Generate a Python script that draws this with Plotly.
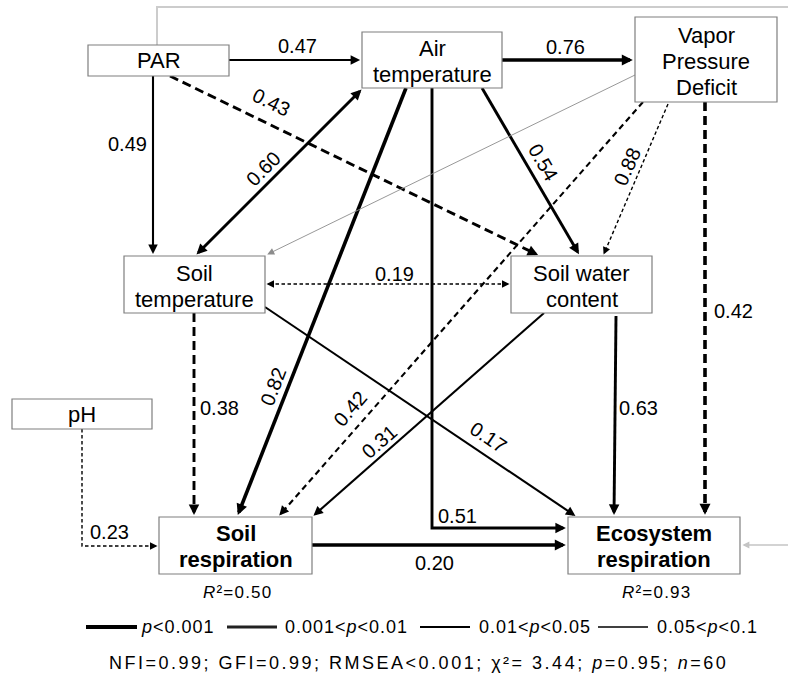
import math
import plotly.graph_objects as go

# ---------------- model content ----------------
node_ids = ["PAR", "AirT", "VPD", "SoilT", "SWC", "pH", "SoilR", "EcoR"]
node_text = [
    ["PAR"],
    ["Air", "temperature"],
    ["Vapor", "Pressure", "Deficit"],
    ["Soil", "temperature"],
    ["Soil water", "content"],
    ["pH"],
    ["Soil", "respiration"],
    ["Ecosystem", "respiration"],
]
node_bold = [False, False, False, False, False, False, True, True]

# standardized path coefficients
path_from = ["PAR", "AirT", "PAR", "PAR", "AirT", "AirT", "AirT", "AirT", "VPD",
             "VPD", "VPD", "SoilT", "SoilT", "SoilT", "SWC", "SWC", "pH", "SoilR"]
path_to = ["AirT", "VPD", "SoilT", "SWC", "SoilT", "SoilR", "EcoR", "SWC", "SoilR",
           "SWC", "EcoR", "SWC", "EcoR", "SoilR", "SoilR", "EcoR", "SoilR", "EcoR"]
path_coef = [0.47, 0.76, 0.49, 0.43, 0.60, 0.82, 0.51, 0.54, 0.42,
             0.88, 0.42, 0.19, 0.17, 0.38, 0.31, 0.63, 0.23, 0.20]
path_dashed = [False, False, False, True, False, False, False, False, True,
               True, True, True, False, True, False, False, True, False]
path_twoway = [False, False, False, False, True, False, False, False, False,
               False, False, True, False, False, False, False, False, False]
# significance class: 0 p<0.001, 1 0.001<p<0.01, 2 0.01<p<0.05, 3 0.05<p<0.1
path_pclass = [2, 0, 2, 1, 1, 0, 1, 1, 2, 3, 0, 3, 2, 1, 2, 1, 3, 0]

r2_nodes = ["SoilR", "EcoR"]
r2_values = [0.50, 0.93]

legend_labels = ["<i>p</i><0.001", "0.001<<i>p</i><0.01", "0.01<<i>p</i><0.05", "0.05<<i>p</i><0.1"]
fit_text = "NFI=0.99; GFI=0.99; RMSEA<0.001; χ²= 3.44; <i>p</i>=0.95; <i>n</i>=60"

# ---------------- layout geometry (pixels, y downwards) ----------------
W, H = 788, 683
BOX = {
    "PAR": (88, 45, 229, 76),
    "AirT": (362, 32, 502, 88),
    "VPD": (635, 17, 777, 102),
    "SoilT": (124, 256, 265, 313),
    "SWC": (511, 256, 652, 313),
    "pH": (12, 399, 152, 429),
    "SoilR": (159, 517, 312, 574),
    "EcoR": (568, 517, 740, 574),
}
TEXT_Y = {
    "PAR": [60], "AirT": [48, 74], "VPD": [35, 61, 87], "SoilT": [273, 299],
    "SWC": [273, 299], "pH": [414], "SoilR": [533, 559], "EcoR": [533, 559],
}
ROUTE = [
    [(229, 60), (362, 60)],
    [(502, 60), (635, 60)],
    [(153, 76), (153, 256)],
    [(170, 76), (540, 256)],
    [(195, 256), (363, 88)],
    [(406, 88), (237, 517)],
    [(432, 88), (432, 528), (568, 528)],
    [(482, 88), (580, 256)],
    [(643, 102), (278, 517)],
    [(668, 104), (603, 256)],
    [(705, 102), (705, 517)],
    [(265, 284), (511, 284)],
    [(265, 307), (577, 517)],
    [(194, 313), (194, 517)],
    [(544, 313), (312, 517)],
    [(616, 316), (614, 517)],
    [(82, 429), (82, 546), (159, 546)],
    [(312, 545), (568, 545)],
]
LABEL_POS = [
    (297, 46, 0), (565, 47, 0), (127, 144, 0), (271, 102, 26), (263, 169, -45),
    (273, 387, -69), (457, 516, 0), (543, 162, 60), (350, 409, -49), (627, 167, -66),
    (733, 311, 0), (394, 274, 0), (488, 437, 34), (219, 408, 0), (379, 442, -41),
    (638, 408, 0), (109, 532, 0), (434, 563, 0),
]
# unlabelled paths drawn in grey
GREY_ROUTES = [
    ([(635, 75), (266, 255)], "#8c8c8c", 0.9, True),
    ([(157, 45), (157, 7), (788, 7)], "#cccccc", 2.0, False),
    ([(788, 545), (741, 545)], "#c4c4c4", 1.6, True),
]

WIDTH = [3.6, 2.9, 2.1, 1.4]
HEAD = [11, 10.5, 9.5, 7.5]
DASH = ["9px,5px", "9px,5px", "6px,4px", "3.5px,2.5px"]
LEGEND_LINES = [(86, 137, "#000000"), (227, 277, "#222222"), (420, 470, "#000000"), (598, 648, "#000000")]
LEGEND_TEXT_X = [139, 283, 477, 655]
LEGEND_Y = 627

FONT = "Liberation Sans, Arial, Helvetica, sans-serif"

shapes = []
annotations = []


def unit(a, b):
    dx, dy = b[0] - a[0], b[1] - a[1]
    d = math.hypot(dx, dy)
    return dx / d, dy / d


def head(tip, prev, width, length, color):
    ux, uy = unit(prev, tip)
    back = 0.8 * length
    annotations.append(dict(
        x=tip[0] - ux * 0.2 * length, y=tip[1] - uy * 0.2 * length,
        ax=tip[0] - ux * back, ay=tip[1] - uy * back,
        xref="x", yref="y", axref="x", ayref="y",
        text="", showarrow=True, arrowhead=2,
        arrowsize=max(0.3, length / (5.0 * width)), arrowwidth=width,
        arrowcolor=color, standoff=0,
    ))


def path_shape(pts, width, color, dash, trim_end, trim_start):
    pts = [list(p) for p in pts]
    if trim_end:
        ux, uy = unit(pts[-2], pts[-1])
        pts[-1][0] -= ux * trim_end
        pts[-1][1] -= uy * trim_end
    if trim_start:
        ux, uy = unit(pts[1], pts[0])
        pts[0][0] -= ux * trim_start
        pts[0][1] -= uy * trim_start
    d = "M" + " L".join(f"{p[0]:.2f},{p[1]:.2f}" for p in pts)
    shapes.append(dict(type="path", path=d, xref="x", yref="y",
                       line=dict(color=color, width=width, dash=dash)))


# edges
for i, coef in enumerate(path_coef):
    pts = ROUTE[i]
    cls = path_pclass[i]
    w, L = WIDTH[cls], HEAD[cls]
    dash = DASH[cls] if path_dashed[i] else "solid"
    path_shape(pts, w, "#000000", dash, 0.6 * L, 0.6 * L if path_twoway[i] else 0)
    head(pts[-1], pts[-2], w, L, "#000000")
    if path_twoway[i]:
        head(pts[0], pts[1], w, L, "#000000")
    lx, ly, ang = LABEL_POS[i]
    annotations.append(dict(x=lx, y=ly, xref="x", yref="y", text=f"{coef:.2f}",
                            showarrow=False, textangle=ang,
                            font=dict(family=FONT, size=20, color="#000000")))

for pts, color, w, has_head in GREY_ROUTES:
    path_shape(pts, w, color, "solid", 4 if has_head else 0, 0)
    if has_head:
        head(pts[-1], pts[-2], max(w, 1.0), 7, color)

# boxes and their labels
for k, nid in enumerate(node_ids):
    x0, y0, x1, y1 = BOX[nid]
    shapes.append(dict(type="rect", x0=x0, y0=y0, x1=x1, y1=y1, xref="x", yref="y",
                       line=dict(color="#7f7f7f", width=1.2), fillcolor="#ffffff"))
    for line, yy in zip(node_text[k], TEXT_Y[nid]):
        annotations.append(dict(x=(x0 + x1) / 2, y=yy, xref="x", yref="y",
                                text=line, showarrow=False,
                                font=dict(family=FONT, size=22, color="#000000",
                                          weight="bold" if node_bold[k] else "normal")))

# explained variance under the response boxes
for nid, r2 in zip(r2_nodes, r2_values):
    x0, y0, x1, y1 = BOX[nid]
    annotations.append(dict(x=(x0 + x1) / 2 + 2, y=592, xref="x", yref="y",
                            text=f"<span style='letter-spacing:1.2px'><i>R</i>²={r2:.2f}</span>",
                            showarrow=False, font=dict(family=FONT, size=17, color="#000000")))

# significance legend
for (lx0, lx1, col), w, tx, lab in zip(LEGEND_LINES, [4.2, 3.2, 2.2, 1.3], LEGEND_TEXT_X, legend_labels):
    shapes.append(dict(type="line", x0=lx0, x1=lx1, y0=LEGEND_Y, y1=LEGEND_Y, xref="x", yref="y",
                       line=dict(color=col, width=w)))
    annotations.append(dict(x=tx, y=LEGEND_Y, xref="x", yref="y", xanchor="left",
                            text=f"<span style='letter-spacing:1px'>{lab}</span>",
                            showarrow=False, font=dict(family=FONT, size=18, color="#000000")))

# model fit statistics
annotations.append(dict(x=418, y=663, xref="x", yref="y",
                        text=f"<span style='letter-spacing:2.5px'>{fit_text}</span>",
                        showarrow=False, font=dict(family=FONT, size=18, color="#000000")))

fig = go.Figure()
fig.update_layout(
    width=W, height=H, margin=dict(l=0, r=0, t=0, b=0),
    paper_bgcolor="#ffffff", plot_bgcolor="#ffffff",
    xaxis=dict(range=[0, W], visible=False, fixedrange=True),
    yaxis=dict(range=[H, 0], visible=False, fixedrange=True),
    shapes=shapes, annotations=annotations, showlegend=False,
)
fig.write_html("out.html", config={"displayModeBar": False})
